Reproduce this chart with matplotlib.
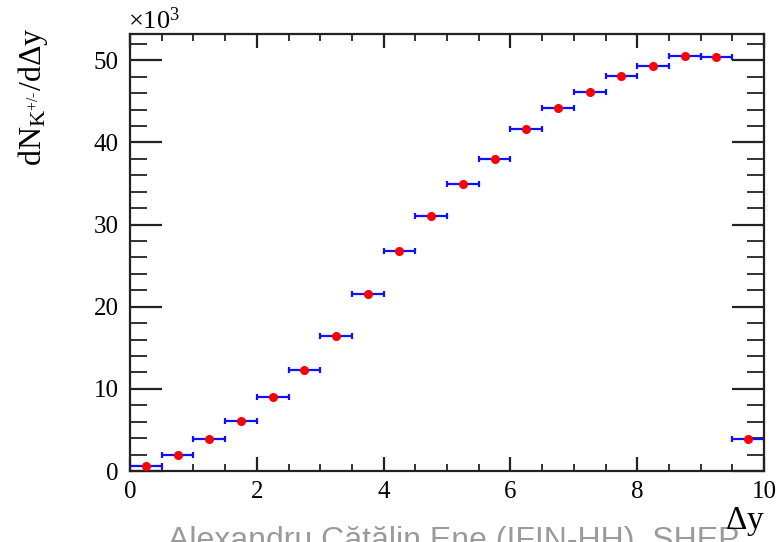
import matplotlib
matplotlib.use("Agg")
import matplotlib.pyplot as plt
from matplotlib.ticker import MultipleLocator, FuncFormatter

plt.rcParams['font.family'] = ['Liberation Serif', 'DejaVu Serif']
plt.rcParams['mathtext.fontset'] = 'custom'
plt.rcParams['mathtext.rm'] = 'Liberation Serif'
plt.rcParams['mathtext.it'] = 'Liberation Serif'
plt.rcParams['mathtext.bf'] = 'Liberation Serif'

# Data (values in units of 10^3)
dy_centers = [0.25, 0.75, 1.25, 1.75, 2.25, 2.75, 3.25, 3.75, 4.25, 4.75,
              5.25, 5.75, 6.25, 6.75, 7.25, 7.75, 8.25, 8.75, 9.25, 9.75]
dn_values = [0.6, 1.95, 3.9, 6.1, 9.0, 12.3, 16.4, 21.6, 26.8, 31.0,
             34.9, 37.95, 41.6, 44.2, 46.1, 48.05, 49.3, 50.5, 50.4, 3.9]
x_halfwidth = [0.25] * len(dy_centers)
x_ticks = [0, 2, 4, 6, 8, 10]
y_ticks = [0, 10, 20, 30, 40, 50]

fig = plt.figure(figsize=(7.79, 5.42), dpi=100)
ax = fig.add_axes([130/779, 71/542, 634/779, 437/542])

ax.errorbar(dy_centers, dn_values, xerr=x_halfwidth, fmt='none',
            ecolor='#1010ff', elinewidth=1.6, capsize=2.2, capthick=1.6, zorder=2)
ax.plot(dy_centers, dn_values, 'o', color='#ff0000', markersize=5.5, zorder=3)

ax.set_xlim(0, 10)
ax.set_ylim(0, 53.2)
ax.set_xticks(x_ticks)
ax.set_yticks(y_ticks)
ax.xaxis.set_minor_locator(MultipleLocator(0.5))
ax.yaxis.set_minor_locator(MultipleLocator(2))
ax.xaxis.set_major_formatter(FuncFormatter(lambda v, p: f"{v:g}"))

ax.tick_params(axis='both', which='both', direction='in', top=True, right=True,
               labelsize=18, colors='#222222', labelcolor='black')
ax.tick_params(axis='x', which='major', length=10, width=1.6, pad=7)
ax.tick_params(axis='x', which='minor', length=5, width=1.3)
ax.tick_params(axis='y', which='major', length=23, width=1.6, pad=8)
ax.tick_params(axis='y', which='minor', length=12, width=1.3)
for s in ax.spines.values():
    s.set_linewidth(1.6)
    s.set_color('#222222')

fig.text(128/779, 1 - 21/542, '×10$^{3}$', fontsize=19, ha='left', va='center')
fig.text(33/779, 1 - 97/542, r'dN$_{\mathrm{K}^{+/\text{-}}}$/d$\Delta$y', fontsize=23,
         rotation=90, ha='center', va='center')
fig.text(765/779, 1 - 521/542, r'$\Delta$y', fontsize=24, ha='right', va='center')
fig.text(454/779, 1 - 526/542, 'Alexandru Cătălin Ene (IFIN-HH), SHEP',
         fontsize=23, family=['Liberation Sans', 'DejaVu Sans'], color='#9a9a9a',
         ha='center', va='top', zorder=0)

fig.savefig('out.png', dpi=100)
